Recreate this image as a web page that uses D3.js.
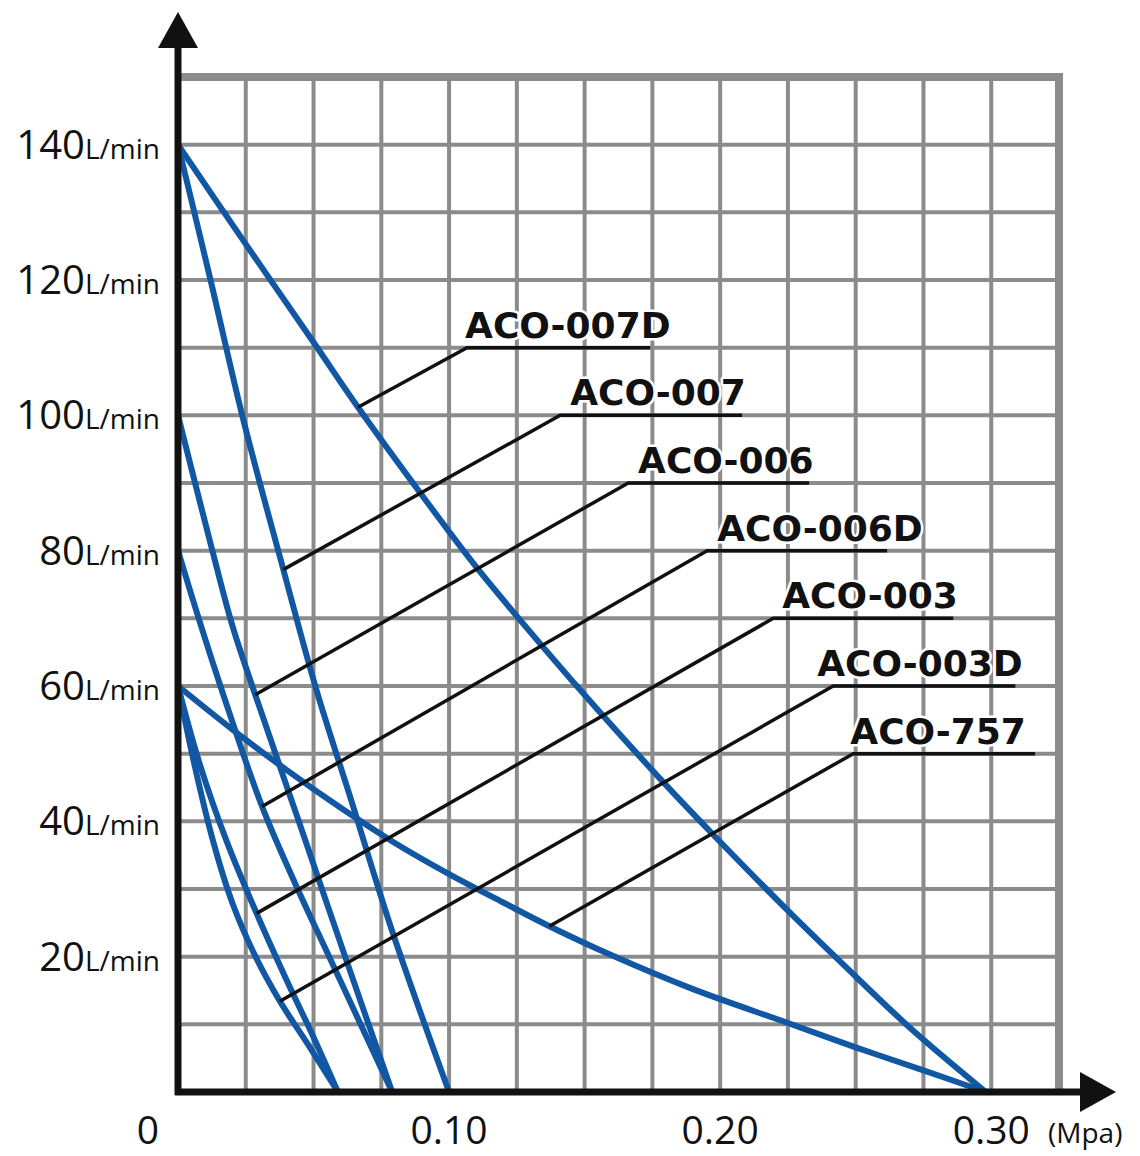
<!DOCTYPE html>
<html>
<head>
<meta charset="utf-8">
<script src="https://cdn.jsdelivr.net/npm/d3@7"></script>
<style>
  body { margin: 0; background: #fff; }
  svg { display: block; }
</style>
</head>
<body>
<svg></svg>
<script>
let width = 1140;
let height = 1156;

// curves: pressure (MPa) / flow (L/min)
let names = ['ACO-007D', 'ACO-007', 'ACO-006', 'ACO-006D', 'ACO-003', 'ACO-003D', 'ACO-757'];

let p007D = [0, 0.025, 0.05, 0.0664, 0.09, 0.11, 0.135, 0.155, 0.179, 0.198, 0.225, 0.245, 0.27, 0.298];
let q007D = [140, 125.3, 110.8, 101.2, 88.2, 77.6, 65.6, 56.4, 45.8, 37.8, 26.8, 19, 9.5, 0];

let p007 = [0, 0.012, 0.024, 0.039, 0.051, 0.064, 0.079, 0.1];
let q007 = [140, 120, 99.5, 77, 59.5, 43, 23.8, 0];

let p006 = [0, 0.0063, 0.0125, 0.02, 0.0285, 0.045, 0.062, 0.079];
let q006 = [100, 90, 80.3, 69, 58.7, 39.5, 19.6, 0];

let p006D = [0, 0.008, 0.0173, 0.031, 0.043, 0.056, 0.079];
let q006D = [80, 69.5, 58, 42.2, 31, 19.8, 0];

let p003 = [0, 0.008, 0.018, 0.029, 0.04, 0.05, 0.059];
let q003 = [60, 48.5, 37, 26.4, 16.6, 8.1, 0];

let p003D = [0, 0.006, 0.013, 0.02, 0.028, 0.0376, 0.048, 0.059];
let q003D = [60, 48.5, 37, 28, 20.5, 13.4, 7, 0];

let p757 = [0, 0.02, 0.04, 0.06, 0.08, 0.1, 0.12, 0.137, 0.16, 0.19, 0.225, 0.25, 0.275, 0.298];
let q757 = [60, 53.6, 47.6, 42, 36.8, 32.2, 28, 24.5, 20.2, 15.2, 10.2, 6.6, 3.2, 0];

// label callouts (data units)
let labelFlow = [110, 100, 90, 80, 70, 60, 50];
let labelTextP = [0.1059, 0.1447, 0.1697, 0.1989, 0.2229, 0.2358, 0.248];
let labelFromP = [0.1066, 0.141, 0.1661, 0.1952, 0.2196, 0.2417, 0.2491];
let labelToP = [0.1742, 0.2081, 0.2328, 0.2616, 0.286, 0.3089, 0.3162];
let pointP = [0.0664, 0.0388, 0.0285, 0.031, 0.029, 0.0376, 0.137];
let pointQ = [101.2, 77.2, 58.7, 42.2, 26.4, 13.4, 24.5];

let yTicks = [20, 40, 60, 80, 100, 120, 140];
let xTicks = [0.1, 0.2, 0.3];
let xTickLabels = ['0.10', '0.20', '0.30'];

let seriesP = [p007D, p007, p006, p006D, p003, p003D, p757];
let seriesQ = [q007D, q007, q006, q006D, q003, q003D, q757];
let curves = names.map((n, i) => seriesP[i].map((p, j) => [p, seriesQ[i][j]]));

let xScale = d3.scaleLinear().domain([0, 0.325]).range([178, 1059]);
let yScale = d3.scaleLinear().domain([0, 150]).range([1092, 77]);

let svg = d3.select('svg')
  .attr('width', width)
  .attr('height', height);

let gridColor = '#8b8b8b';

// grid
svg.append('g')
  .selectAll('line')
  .data(d3.range(1, 13).map(k => k * 0.025))
  .enter()
  .append('line')
    .attr('x1', d => xScale(d))
    .attr('x2', d => xScale(d))
    .attr('y1', yScale(0))
    .attr('y2', yScale(150))
    .attr('stroke', gridColor)
    .attr('stroke-width', 4);

svg.append('g')
  .selectAll('line')
  .data(d3.range(1, 15).map(k => k * 10))
  .enter()
  .append('line')
    .attr('x1', xScale(0))
    .attr('x2', xScale(0.325))
    .attr('y1', d => yScale(d))
    .attr('y2', d => yScale(d))
    .attr('stroke', gridColor)
    .attr('stroke-width', 4);

// outer border (top and right)
svg.append('path')
  .attr('d', `M${xScale(0)},${yScale(150)}H${xScale(0.325)}V${yScale(0)}`)
  .attr('fill', 'none')
  .attr('stroke', gridColor)
  .attr('stroke-width', 8);

// curves
let line = d3.line()
  .x(d => xScale(d[0]))
  .y(d => yScale(d[1]))
  .curve(d3.curveCatmullRom.alpha(0.5));

svg.append('g')
  .selectAll('path')
  .data(curves)
  .enter()
  .append('path')
    .attr('d', line)
    .attr('fill', 'none')
    .attr('stroke', '#1157a3')
    .attr('stroke-width', 6)
    .attr('stroke-linejoin', 'round');

// callout lines
let callouts = svg.append('g');
names.forEach((n, i) => {
  callouts.append('path')
    .attr('d', `M${xScale(pointP[i])},${yScale(pointQ[i])}L${xScale(labelFromP[i])},${yScale(labelFlow[i])}H${xScale(labelToP[i])}`)
    .attr('fill', 'none')
    .attr('stroke', '#111')
    .attr('stroke-width', 3.5);
  callouts.append('text')
    .attr('x', xScale(labelTextP[i]))
    .attr('y', yScale(labelFlow[i]) - 10)
    .style('font-family', '"DejaVu Sans", sans-serif')
    .style('font-weight', 'bold')
    .style('font-size', '36px')
    .attr('fill', '#111')
    .attr('stroke', '#fff')
    .attr('stroke-width', 5)
    .attr('stroke-linejoin', 'round')
    .style('paint-order', 'stroke')
    .text(n);
});

// axes
svg.append('line')
  .attr('x1', xScale(0))
  .attr('x2', xScale(0))
  .attr('y1', yScale(0) + 3)
  .attr('y2', 46)
  .attr('stroke', '#111')
  .attr('stroke-width', 7);

svg.append('path')
  .attr('d', `M${xScale(0)},12L${xScale(0) + 20},48L${xScale(0) - 20},48Z`)
  .attr('fill', '#111');

svg.append('line')
  .attr('x1', xScale(0) - 3)
  .attr('x2', 1082)
  .attr('y1', yScale(0))
  .attr('y2', yScale(0))
  .attr('stroke', '#111')
  .attr('stroke-width', 7);

svg.append('path')
  .attr('d', `M1116,${yScale(0)}L1080,${yScale(0) - 20}L1080,${yScale(0) + 20}Z`)
  .attr('fill', '#111');

// y tick labels
let yLab = svg.append('g')
  .selectAll('text')
  .data(yTicks)
  .enter()
  .append('text')
    .attr('x', 160)
    .attr('y', d => yScale(d) + 14)
    .attr('text-anchor', 'end')
    .style('font-family', '"Open Sans", sans-serif')
    .attr('fill', '#111');

yLab.append('tspan')
  .style('font-size', '40px')
  .text(d => d);

yLab.append('tspan')
  .style('font-size', '28px')
  .text('L/min');

// x tick labels
svg.append('g')
  .selectAll('text')
  .data(xTicks)
  .enter()
  .append('text')
    .attr('x', d => xScale(d))
    .attr('y', 1144)
    .attr('text-anchor', 'middle')
    .style('font-family', '"Open Sans", sans-serif')
    .style('font-size', '39px')
    .attr('fill', '#111')
    .text((d, i) => xTickLabels[i]);

svg.append('text')
  .attr('x', xScale(0) - 30)
  .attr('y', 1144)
  .attr('text-anchor', 'middle')
  .style('font-family', '"Open Sans", sans-serif')
  .style('font-size', '39px')
  .attr('fill', '#111')
  .text('0');

svg.append('text')
  .attr('x', 1048)
  .attr('y', 1143)
  .style('font-family', '"Open Sans", sans-serif')
  .style('font-size', '28px')
  .attr('fill', '#111')
  .text('(Mpa)');
</script>
</body>
</html>
